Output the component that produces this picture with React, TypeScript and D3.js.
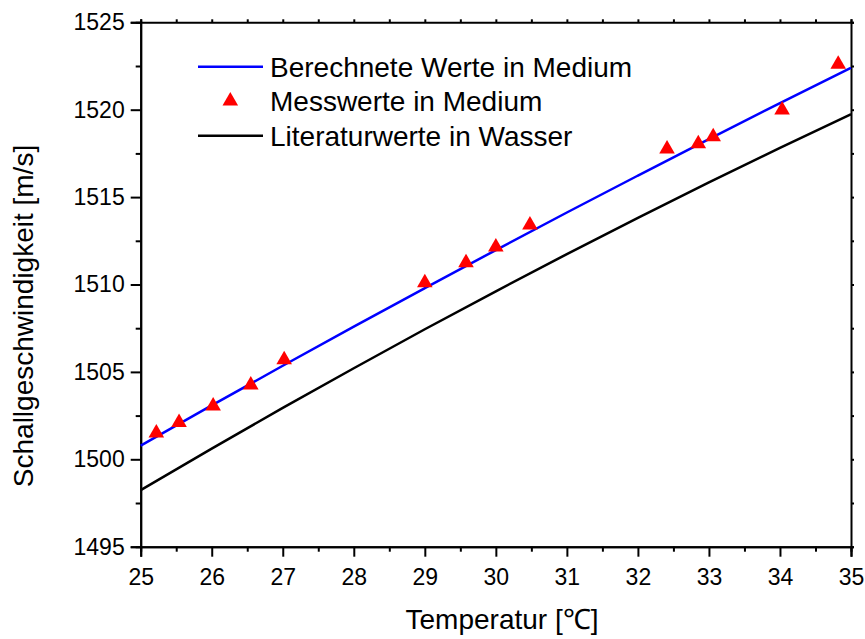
import React, { useEffect, useRef } from 'react';
import * as d3 from 'd3';

// Temperatur [°C] an den Stützstellen der Kurven
const curveTemps = [25, 26, 27, 28, 29, 30, 31, 32, 33, 34, 35];
// berechnete Werte im Medium
const calcValues = [1500.78, 1503.08, 1505.35, 1507.59, 1509.79, 1511.97, 1514.12, 1516.23, 1518.32, 1520.38, 1522.4];
// Literaturwerte in Wasser
const waterValues = [1498.24, 1500.61, 1502.94, 1505.21, 1507.44, 1509.61, 1511.74, 1513.81, 1515.84, 1517.81, 1519.74];

// Messwerte
const measTemps = [25.22, 25.54, 26.02, 26.55, 27.02, 29.0, 29.58, 30.0, 30.48, 32.41, 32.85, 33.06, 34.03, 34.82];
const measValues = [1501.5, 1502.1, 1503.05, 1504.25, 1505.7, 1510.1, 1511.25, 1512.15, 1513.4, 1517.75, 1518.05, 1518.45, 1519.98, 1522.6];

const xTicks = [25, 26, 27, 28, 29, 30, 31, 32, 33, 34, 35];
const yTicks = [1495, 1500, 1505, 1510, 1515, 1520, 1525];

const legendLabels = ['Berechnete Werte in Medium', 'Messwerte in Medium', 'Literaturwerte in Wasser'];

const W = 865;
const H = 639;
const FONT = '"Liberation Sans", Arial, sans-serif';

export default function App() {
  const ref = useRef<SVGSVGElement>(null);

  useEffect(() => {
    const svg = d3.select(ref.current);
    svg.selectAll('*').remove();

    const left = 140.7;
    const right = 851;
    const top = 22.3;
    const bottom = 546.7;

    const x = d3.scaleLinear().domain([25, 35]).range([left, right]);
    const y = d3.scaleLinear().domain([1495, 1525]).range([bottom, top]);

    const xMinor = d3.range(25.5, 35, 1);
    const yMinor = d3.range(1497.5, 1525, 5);

    // Achsen unten / links
    const axB = svg.append('g').attr('transform', `translate(0,${bottom})`)
      .call(d3.axisBottom(x).tickValues(xTicks).tickSize(10).tickPadding(11).tickFormat(d3.format('d')));
    svg.append('g').attr('transform', `translate(0,${bottom})`)
      .call(d3.axisBottom(x).tickValues(xMinor).tickSize(5).tickFormat(() => ''));
    const axL = svg.append('g').attr('transform', `translate(${left},0)`)
      .call(d3.axisLeft(y).tickValues(yTicks).tickSize(10).tickPadding(6).tickFormat(d3.format('d')));
    svg.append('g').attr('transform', `translate(${left},0)`)
      .call(d3.axisLeft(y).tickValues(yMinor).tickSize(5).tickFormat(() => ''));

    // Achsen oben / rechts
    svg.append('g').attr('transform', `translate(0,${top})`)
      .call(d3.axisTop(x).tickValues([...xTicks, ...xMinor]).tickSize(3).tickFormat(() => ''));
    svg.append('g').attr('transform', `translate(${right},0)`)
      .call(d3.axisRight(y).tickValues([...yTicks, ...yMinor]).tickSize(3).tickFormat(() => ''));

    svg.selectAll('.domain').attr('stroke', '#000').attr('stroke-width', 2);
    svg.selectAll('.tick line').attr('stroke', '#000').attr('stroke-width', 2);
    [axB, axL].forEach((g) =>
      g.selectAll('text').attr('font-family', FONT).attr('font-size', 23).attr('fill', '#000'));
    axB.selectAll('text').attr('dy', '0.74em');

    const curve = d3.line<number>()
      .x((d, i) => x(curveTemps[i]))
      .y((d) => y(d))
      .curve(d3.curveMonotoneX);

    svg.append('path').datum(waterValues).attr('d', curve)
      .attr('fill', 'none').attr('stroke', '#000').attr('stroke-width', 2.5);
    svg.append('path').datum(calcValues).attr('d', curve)
      .attr('fill', 'none').attr('stroke', '#0000ff').attr('stroke-width', 2.5);

    const tri = d3.symbol().type(d3.symbolTriangle).size(105);
    svg.append('g').selectAll('path')
      .data(measValues)
      .join('path')
      .attr('transform', (d, i) => `translate(${x(measTemps[i])},${y(d)})`)
      .attr('d', tri)
      .attr('fill', '#ff0000');

    // Legende
    const lg = svg.append('g').attr('font-family', FONT).attr('font-size', 28);
    const rows = [66.7, 101, 135.7];
    lg.append('line').attr('x1', 198).attr('x2', 263).attr('y1', rows[0]).attr('y2', rows[0])
      .attr('stroke', '#0000ff').attr('stroke-width', 2.5);
    lg.append('path').attr('d', tri).attr('transform', `translate(230.3,${rows[1]})`).attr('fill', '#ff0000');
    lg.append('line').attr('x1', 198).attr('x2', 263).attr('y1', rows[2]).attr('y2', rows[2])
      .attr('stroke', '#000').attr('stroke-width', 2.5);
    legendLabels.forEach((t, i) => {
      lg.append('text').attr('x', 270).attr('y', rows[i]).attr('dy', '0.35em').text(t);
    });

    // Achsentitel
    svg.append('text').attr('x', 502).attr('y', 629).attr('text-anchor', 'middle')
      .attr('font-family', FONT).attr('font-size', 28).text('Temperatur [\u2103]');
    svg.append('text').attr('transform', `translate(33,316) rotate(-90)`).attr('text-anchor', 'middle')
      .attr('font-family', FONT).attr('font-size', 28).text('Schallgeschwindigkeit [m/s]');
  }, []);

  return (
    <div>
      <svg ref={ref} width={W} height={H} style={{ position: 'absolute', left: 0, top: 0, background: '#fff' }} />
    </div>
  );
}
